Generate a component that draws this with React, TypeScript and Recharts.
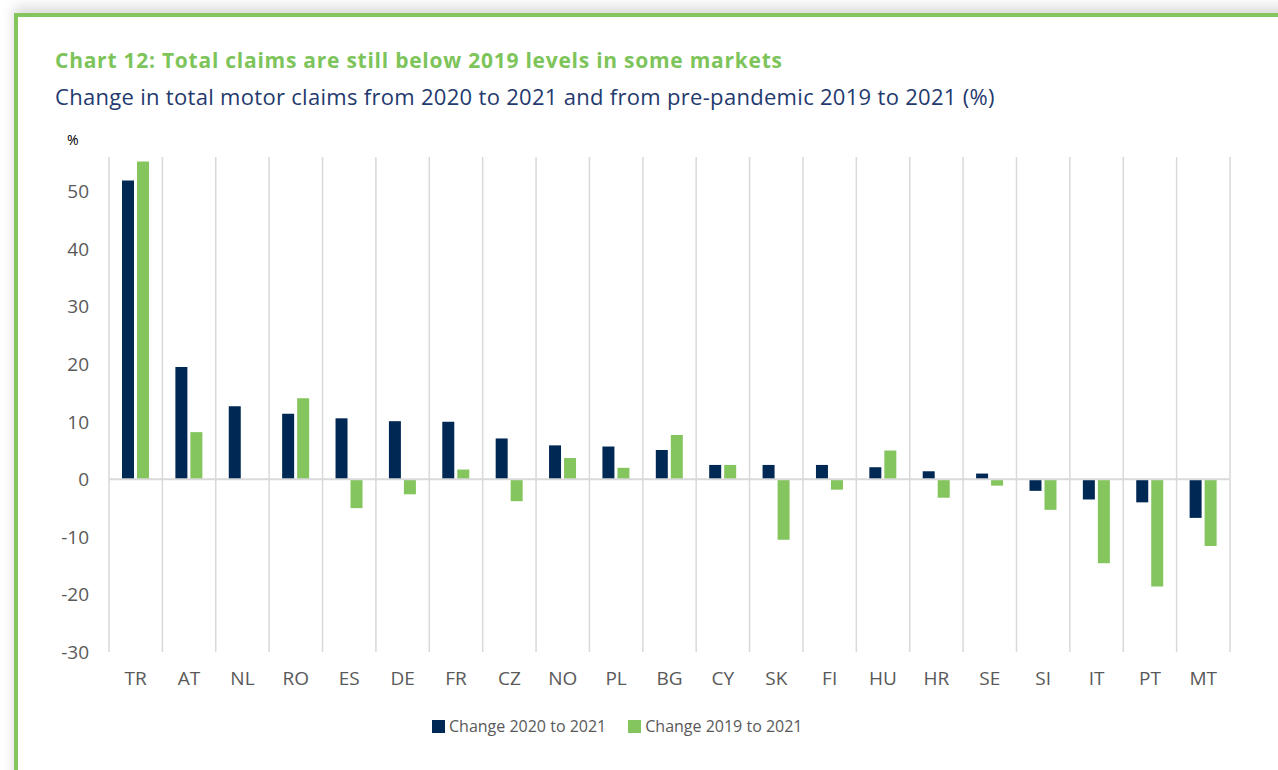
import { Bar, BarChart, CartesianGrid, Legend, ReferenceLine, XAxis, YAxis } from "recharts";

const countries = ["TR", "AT", "NL", "RO", "ES", "DE", "FR", "CZ", "NO", "PL", "BG", "CY", "SK", "FI", "HU", "HR", "SE", "SI", "IT", "PT", "MT"];
const change2020 = [51.9, 19.5, 12.7, 11.4, 10.6, 10.1, 10.0, 7.1, 5.9, 5.7, 5.1, 2.5, 2.5, 2.5, 2.1, 1.4, 1.0, -2.0, -3.5, -4.0, -6.7];
const change2019 = [55.2, 8.2, 0, 14.1, -5.0, -2.6, 1.7, -3.8, 3.7, 2.0, 7.7, 2.5, -10.5, -1.8, 5.0, -3.2, -1.1, -5.3, -14.6, -18.6, -11.6];
const yTicks = [-30, -20, -10, 0, 10, 20, 30, 40, 50];
const seriesNames = ["Change 2020 to 2021", "Change 2019 to 2021"];

const NAVY = "#002855";
const GREEN = "#84C55E";
const GREY = "#595959";
const FONT = "'Open Sans', 'Noto Sans', sans-serif";

const data = countries.map((c, i) => ({ country: c, a: change2020[i], b: change2019[i] }));

function LegendContent({ payload }: any) {
  const items = seriesNames
    .map((n) => (payload || []).find((p: any) => p.value === n))
    .filter(Boolean);
  return (
    <div style={{ display: "flex", gap: 22, fontFamily: FONT, fontSize: 16, color: GREY }}>
      {items.map((p: any) => (
        <div key={p.value} style={{ display: "flex", alignItems: "center", gap: 4 }}>
          <span style={{ width: 13, height: 13, background: p.color, display: "inline-block" }} />
          <span>{p.value}</span>
        </div>
      ))}
    </div>
  );
}

export default function App() {
  return (
    <div style={{ position: "fixed", left: 0, top: 0, width: 1278, height: 770, background: "#fff", overflow: "hidden" }}>
      <div
        style={{
          position: "absolute",
          left: 14,
          top: 13,
          width: 1320,
          height: 820,
          border: `4px solid ${GREEN}`,
          boxShadow: "0 -6px 12px rgba(0,0,0,0.15)",
        }}
      />
      <div style={{ position: "absolute", left: 55, top: 50, fontFamily: FONT, fontWeight: 700, fontSize: 21, lineHeight: "21px", letterSpacing: 0.75, color: "#7DC45A", whiteSpace: "nowrap" }}>
        Chart 12: Total claims are still below 2019 levels in some markets
      </div>
      <div style={{ position: "absolute", left: 55, top: 85, fontFamily: FONT, fontSize: 22, lineHeight: "22px", letterSpacing: 0.3, color: "#1F3A6E", whiteSpace: "nowrap" }}>
        Change in total motor claims from 2020 to 2021 and from pre-pandemic 2019 to 2021 (%)
      </div>
      <div style={{ position: "absolute", left: 67, top: 133, fontFamily: FONT, fontSize: 14, lineHeight: "14px", color: "#000" }}>%</div>
      <div style={{ position: "absolute", left: 0, top: 0 }}>
        <BarChart
          width={1278}
          height={770}
          data={data}
          margin={{ top: 157, right: 48, bottom: 78, left: 49 }}
          barSize={12}
          barGap={3}
        >
          <CartesianGrid
            horizontal={false}
            stroke="#D9D9D9"
            strokeWidth={1.5}
            verticalCoordinatesGenerator={({ offset }: any) =>
              countries.map((_, i) => offset.left + (i * offset.width) / countries.length).concat(offset.left + offset.width)
            }
          />
          <XAxis
            dataKey="country"
            height={40}
            axisLine={false}
            tickLine={false}
            tickSize={0}
            tickMargin={20}
            interval={0}
            tick={{ fill: GREY, fontSize: 19, fontFamily: FONT }}
          />
          <YAxis
            width={60}
            domain={[-30, 56]}
            ticks={yTicks}
            allowDataOverflow
            axisLine={false}
            tickLine={false}
            tickSize={0}
            tickMargin={20}
            tick={{ fill: GREY, fontSize: 19, fontFamily: FONT }}
          />
          <ReferenceLine y={0} stroke="#D9D9D9" strokeWidth={2} />
          <Bar dataKey="a" name={seriesNames[0]} fill={NAVY} isAnimationActive={false} />
          <Bar dataKey="b" name={seriesNames[1]} fill={GREEN} isAnimationActive={false} />
          <Legend
            verticalAlign="middle"
            content={<LegendContent />}
            wrapperStyle={{ top: 715, left: 432, width: "auto" }}
          />
        </BarChart>
      </div>
    </div>
  );
}
